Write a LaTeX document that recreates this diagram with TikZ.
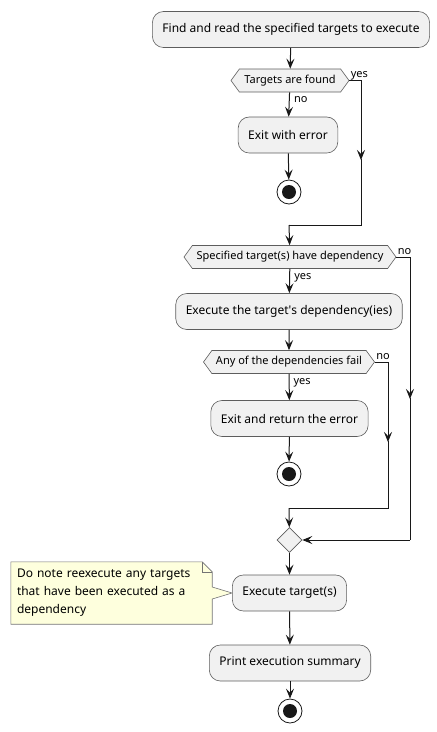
\documentclass[tikz,border=0pt]{standalone}
\usepackage{fontspec}
\setmainfont{Noto Sans}
\usetikzlibrary{arrows.meta,shapes.symbols,shapes.geometric,backgrounds}

\definecolor{actfill}{HTML}{F1F1F1}
\definecolor{notefill}{HTML}{FEFFDD}
\definecolor{edge}{HTML}{181818}

\begin{document}
\begin{tikzpicture}[x=1pt,y=-1pt,
  act/.style={rectangle,rounded corners=11pt,draw=edge!70,line width=0.6pt,fill=actfill,
    minimum height=36pt,inner xsep=10pt,font=\fontsize{12}{14}\selectfont},
  cond/.style={signal,signal to=east and west,signal pointer angle=108,draw=edge!70,
    line width=0.6pt,fill=actfill,minimum height=23pt,inner xsep=2pt,inner ysep=0pt,
    font=\fontsize{11}{13}\selectfont},
  merge/.style={diamond,aspect=1,draw=edge!70,line width=0.6pt,fill=actfill,
    minimum size=25pt,inner sep=0pt},
  stop/.style={circle,draw=edge,line width=0.8pt,fill=white,minimum size=24pt,inner sep=0pt,
    path picture={\fill[edge] (path picture bounding box.center) circle (7pt);}},
  note/.style={rectangle,minimum width=201pt,minimum height=62pt,text width=189pt,
    inner xsep=6pt,align=left,font=\fontsize{12}{18}\selectfont},
  lbl/.style={inner sep=1pt,font=\fontsize{11}{13}\selectfont},
  line/.style={draw=edge,line width=1pt},
  flow/.style={line,-{Stealth[length=10pt,width=8pt,inset=4pt]}}]
\useasboundingbox (0,0) rectangle (437,732);

% activities and decisions
\node [act] (find) at (291,29.5) {Find and read the specified targets to execute};
\node [cond,minimum width=118pt] (found) at (290,80.5) {Targets are found};
\node [act] (err) at (288,135) {Exit with error};
\node [stop] (stopa) at (289,192) {};
\coordinate (cornera) at (361,225);
\coordinate (joina) at (289,225);
\node [cond,minimum width=212pt] (hasdep) at (290,257) {Specified target(s) have dependency};
\node [act] (rundep) at (289,311.5) {Execute the target\textquotesingle s dependency(ies)};
\node [cond,minimum width=171pt] (depfail) at (289,362) {Any of the dependencies fail};
\node [act] (exitret) at (289.5,418.5) {Exit and return the error};
\node [stop] (stopb) at (289,474) {};
\coordinate (cornerb) at (388,508);
\coordinate (joinb) at (289,508);
\coordinate (cornerc) at (410,540);
\node [merge] (merge) at (289.5,540) {};
\node [act] (run) at (289.5,593) {Execute target(s)};
\node [act] (summary) at (290,663) {Print execution summary};
\node [stop] (stopc) at (290,711) {};

% note
\node [note] (remark) at (111.5,593) {Do note reexecute any targets that have been executed as a dependency};
\begin{scope}[on background layer]
\filldraw [fill=notefill,draw=edge!60,line width=0.6pt]
  (remark.north west) -- ([xshift=-10pt]remark.north east) -- ([yshift=-10pt]remark.north east)
  -- ([yshift=6pt]remark.east) -- (run.west) -- ([yshift=-6pt]remark.east)
  -- (remark.south east) -- (remark.south west) -- cycle;
\draw [draw=edge!60,line width=0.6pt] ([xshift=-10pt]remark.north east) |- ([yshift=-10pt]remark.north east);
\end{scope}

% connectors
\draw [flow] (find) -- (found);
\draw [flow] (found) -- node [lbl,anchor=north west,pos=0,xshift=3pt,yshift=-3pt] (noa) {no} (err);
\draw [flow] (err) -- (stopa);
\draw [flow] (found.east) node [lbl,anchor=base west,yshift=3pt] (yesa) {yes} -| (361,160);
\draw [line] (361,159) -- (cornera) -- (joina);
\draw [flow] (joina) -- (hasdep);
\draw [flow] (hasdep) -- node [lbl,anchor=north west,pos=0,xshift=3pt,yshift=-3pt] (yesb) {yes} (rundep);
\draw [flow] (rundep) -- (depfail);
\draw [flow] (depfail) -- node [lbl,anchor=north west,pos=0,xshift=3pt,yshift=-3pt] (yesc) {yes} (exitret);
\draw [flow] (exitret) -- (stopb);
\draw [flow] (depfail.east) node [lbl,anchor=base west,yshift=3pt] (nob) {no} -| (388,442);
\draw [line] (388,441) -- (cornerb) -- (joinb);
\draw [flow] (joinb) -- (merge);
\draw [flow] (hasdep.east) node [lbl,anchor=base west,yshift=3pt] (noc) {no} -| (410,399);
\draw [line] (410,398) -- (cornerc);
\draw [flow] (cornerc) -- (merge.east);
\draw [flow] (merge) -- (run);
\draw [flow] (run) -- (summary);
\draw [flow] (summary) -- (stopc);
\end{tikzpicture}
\end{document}
